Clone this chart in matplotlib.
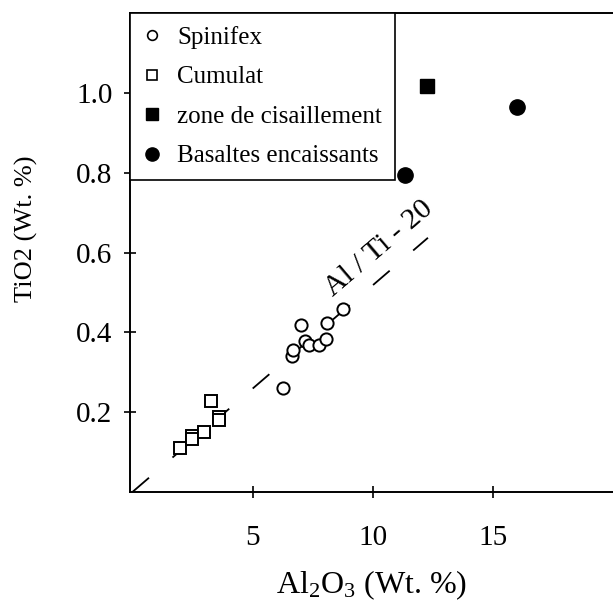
import matplotlib.pyplot as plt
from matplotlib.lines import Line2D

plt.rcParams['font.family'] = ['Liberation Serif', 'DejaVu Serif']
plt.rcParams['mathtext.fontset'] = 'custom'
plt.rcParams['mathtext.rm'] = 'Liberation Serif'
plt.rcParams['mathtext.it'] = 'Liberation Serif:italic'

# data (Al2O3 wt.%, TiO2 wt.%)
spin_x = [6.28, 6.64, 6.69, 7.01, 7.18, 7.36, 7.76, 8.04, 8.08, 8.75]
spin_y = [0.26, 0.34, 0.357, 0.419, 0.378, 0.368, 0.368, 0.384, 0.423, 0.458]
cum_x = [1.97, 2.48, 2.50, 2.98, 3.29, 3.60, 3.62]
cum_y = [0.11, 0.141, 0.132, 0.151, 0.228, 0.187, 0.18]
shear_x = [12.26]
shear_y = [1.018]
bas_x = [11.35, 16.0]
bas_y = [0.795, 0.965]
ratio_line_x = [0, 12.3]
ratio = 19.3

xticks = [5, 10, 15]
yticks = [0.2, 0.4, 0.6, 0.8, 1.0]
ytick_labels = ['0.2', '0.4', '0.6', '0.8', '1.0']

fig = plt.figure(figsize=(6.13, 6.03), dpi=100)
ax = fig.add_axes([0.212, 0.184, 0.788, 0.794])

lw = 1.3
ax.plot(ratio_line_x, [v / ratio for v in ratio_line_x], color='black', lw=lw,
        dashes=(15.8 / lw, 22.3 / lw), zorder=1)

ax.plot(spin_x, spin_y, 'o', ms=8.8, mfc='white', mec='black', mew=1.4, zorder=3)
ax.plot(cum_x, cum_y, 's', ms=8.8, mfc='white', mec='black', mew=1.4, zorder=3)
ax.plot(shear_x, shear_y, 's', ms=10, color='black', zorder=3)
ax.plot(bas_x, bas_y, 'o', ms=11, color='black', zorder=3)

ax.text(10.25, 0.61, 'Al / Ti - 20', rotation=40.5, fontsize=21.5,
        ha='center', va='center', rotation_mode='anchor')

handles = [
    Line2D([], [], ls='none', marker='o', ms=7, mfc='white', mec='black', mew=1.2),
    Line2D([], [], ls='none', marker='s', ms=7, mfc='white', mec='black', mew=1.2),
    Line2D([], [], ls='none', marker='s', ms=9, color='black'),
    Line2D([], [], ls='none', marker='o', ms=9.5, color='black'),
]
labels = ['Spinifex', 'Cumulat', 'zone de cisaillement', 'Basaltes encaissants']
leg = ax.legend(handles, labels, loc='upper left', bbox_to_anchor=(0, 1),
                borderaxespad=0, fontsize=18, frameon=True, fancybox=False,
                edgecolor='black', framealpha=1, handlelength=0.8,
                handletextpad=0.6, labelspacing=0.68, borderpad=0.5)
leg.get_frame().set_linewidth(1.2)

ax.set_xlim(-0.1, 20)
ax.set_ylim(0, 1.2)
ax.set_xticks(xticks)
ax.set_yticks(yticks)
ax.set_yticklabels(ytick_labels)
ax.tick_params(axis='both', direction='inout', length=9, width=1.2, labelsize=21)
ax.tick_params(axis='x', pad=19)
ax.tick_params(axis='y', pad=8)
ax.spines['right'].set_visible(False)
for s in ['left', 'bottom', 'top']:
    ax.spines[s].set_linewidth(1.4)

ax.set_xlabel('Al$_2$O$_3$ (Wt. %)', fontsize=23, labelpad=13)
ax.set_ylabel('TiO2 (Wt. %)', fontsize=19)
ax.yaxis.set_label_coords(-0.19, 0.55)

fig.savefig('out.png', dpi=100)
